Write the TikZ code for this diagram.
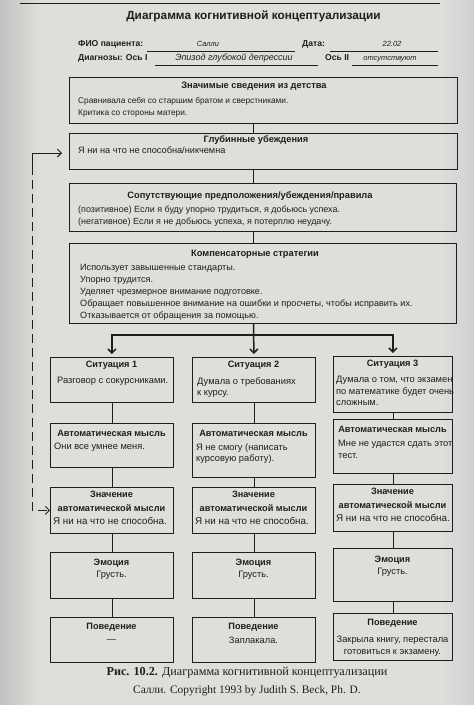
\documentclass[tikz,border=0pt]{standalone}
\usepackage{fontspec}
\setmainfont{Liberation Sans}
\newfontfamily\serifcap{Liberation Serif}
\usetikzlibrary{arrows.meta}
\definecolor{paper}{RGB}{222,222,219}
\definecolor{ink}{RGB}{30,30,30}
\newcommand\fs[2]{\fontsize{#1}{#2}\selectfont}
\newcommand\mkbox[5]{\node[box,minimum width=#4pt,minimum height=#5pt] (#1) at (#2,#3) {};}
\begin{document}
\begin{tikzpicture}[x=1pt,y=-1pt,
  every node/.style={inner sep=0pt,text=ink},
  box/.style={draw=ink,line width=0.9pt,anchor=north west,inner sep=0pt},
  lab/.style={font=\bfseries\fs{8.6}{10},anchor=base west},
  val/.style={font=\itshape\fs{7.5}{9},anchor=base},
  rule/.style={draw=ink,line width=0.6pt},
  ttlU/.style={font=\bfseries\fs{9.3}{10},anchor=base},
  ttlL/.style={font=\bfseries\fs{9.2}{14},anchor=base},
  bodyU/.style={font=\fs{8.3}{12},anchor=north west,align=left},
  bodyL/.style={font=\fs{9.3}{11.7},anchor=north west,align=left},
  bodyC/.style={font=\fs{9.3}{11.7},anchor=base,align=center},
  link/.style={draw=ink,line width=0.75pt},
  branch/.style={draw=ink,line width=1.5pt,-{Straight Barb[length=4pt,width=8pt]},shorten >=3pt},
  tipL/.style={{Straight Barb[length=4pt,width=8pt]}-},
  tipR/.style={-{Straight Barb[length=4pt,width=8pt]}},
  fbsolid/.style={draw=ink,line width=0.9pt},
  fb/.style={draw=ink,line width=0.9pt,dash pattern=on 9pt off 5pt}]
\useasboundingbox (0,0) rectangle (474,705);
\fill[paper] (0,0) rectangle (474,705);
\shade[left color=black!24,right color=paper] (0,0) rectangle (40,705);
\shade[left color=paper,right color=black!18] (440,0) rectangle (474,705);
\draw[rule,line width=0.9pt] (20,3) -- (440,3);

% header
\node[font=\bfseries\fs{11.8}{13},anchor=base] (title) at (253.5,19) {Диаграмма когнитивной концептуализации};
\node[lab] (fio) at (78,46) {ФИО пациента:};
\draw[rule] (147,51) -- (295,51);
\node[val] (fioval) at (208,46) {Салли};
\node[lab] (date) at (302,46) {Дата:};
\draw[rule] (330,51) -- (438,51);
\node[val] (dateval) at (392,46) {22.02};
\node[lab] (diag) at (78,60) {Диагнозы: Ось I};
\draw[rule] (155,65) -- (318,65);
\node[val,font=\itshape\fs{9}{10}] (ax1) at (234,60) {Эпизод глубокой депрессии};
\node[lab] (ax2lab) at (325,60) {Ось II};
\draw[rule] (352,65) -- (438,65);
\node[val] (ax2) at (390,60) {отсутствуют};

% upper boxes
\mkbox{b1}{69}{77}{388}{46}
\mkbox{b2}{69}{133}{388}{36}
\mkbox{b3}{69}{183}{387}{48}
\mkbox{b4}{69}{243}{387}{80}
\coordinate (axis) at (253.5,0);
\node[ttlU] (b1t) at (254,88) {Значимые сведения из детства};
\node[bodyU] (b1x) at (78,97) {Сравнивала себя со старшим братом и сверстниками.\\Критика со стороны матери.};
\node[ttlU] (b2t) at (256,142) {Глубинные убеждения};
\node[bodyU,font=\fs{9.2}{12}] (b2x) at (78,146.5) {Я ни на что не способна/никчемна};
\node[ttlU] (b3t) at (250,198) {Сопутствующие предположения/убеждения/правила};
\node[bodyU,font=\fs{8.95}{11.7}] (b3x) at (78,206) {(позитивное) Если я буду упорно трудиться, я добьюсь успеха.\\(негативное) Если я не добьюсь успеха, я потерплю неудачу.};
\node[ttlU] (b4t) at (255,256) {Компенсаторные стратегии};
\node[bodyU,font=\fs{9.1}{12.2}] (b4x) at (80,263.7) {Использует завышенные стандарты.\\Упорно трудится.\\Уделяет чрезмерное внимание подготовке.\\Обращает повышенное внимание на ошибки и просчеты, чтобы исправить их.\\Отказывается от обращения за помощью.};
\draw[link] (b1.south -| axis) -- (b2.north -| axis);
\draw[link] (b2.south -| axis) -- (b3.north -| axis);
\draw[link] (b3.south -| axis) -- (b4.north -| axis);

% lower boxes
\mkbox{s1}{50}{357}{123}{45}
\mkbox{s2}{192}{357}{123}{45}
\mkbox{s3}{333}{356}{119}{56}
\mkbox{a1}{50}{423}{123}{44}
\mkbox{a2}{192}{423}{123}{54}
\mkbox{a3}{333}{419}{119}{54}
\mkbox{m1}{50}{487}{123}{46}
\mkbox{m2}{192}{487}{123}{46}
\mkbox{m3}{333}{484}{119}{47}
\mkbox{e1}{50}{552}{123}{46}
\mkbox{e2}{192}{552}{123}{46}
\mkbox{e3}{333}{548}{119}{53}
\mkbox{p1}{50}{617}{123}{45}
\mkbox{p2}{192}{617}{123}{45}
\mkbox{p3}{333}{613}{119}{47}

% branch
\coordinate (br) at (253.5,335);
\draw[branch] (b4.south -| br) -- (s2.north);
\draw[branch] (br) -| (s1.north);
\draw[branch] (br) -| (s3.north);

% column links
\foreach \c in {1,2,3}{
  \draw[link] (s\c.south) -- (a\c.north);
  \draw[link] (a\c.south) -- (m\c.north);
  \draw[link] (m\c.south) -- (e\c.north);
  \draw[link] (e\c.south) -- (p\c.north);
}

% feedback
\coordinate (fbtip) at (62,153);
\coordinate (fbc) at (32,153);
\coordinate (fbd) at (32,166);
\draw[fbsolid,tipL] (fbtip) -- (fbc) -- (fbd);
\draw[fb,tipR] (fbd) |- (m1.west);

% situations
\node[ttlL] (s1t) at (111.5,367.4) {Ситуация 1};
\node[bodyL] (s1x) at (57,377) {Разговор с сокурсниками.};
\node[ttlL] (s2t) at (253.5,367.4) {Ситуация 2};
\node[bodyL] (s2x) at (197,377) {Думала о требованиях\\к курсу.};
\node[ttlL] (s3t) at (392.5,366.4) {Ситуация 3};
\node[bodyL] (s3x) at (336,375.7) {Думала о том, что экзамен\\по математике будет очень\\сложным.};

% automatic thoughts
\node[ttlL] (a1t) at (111.5,436) {Автоматическая мысль};
\node[bodyL] (a1x) at (54,443.2) {Они все умнее меня.};
\node[ttlL] (a2t) at (253.5,436) {Автоматическая мысль};
\node[bodyL] (a2x) at (196,443.2) {Я не смогу (написать\\курсовую работу).};
\node[ttlL] (a3t) at (392.5,432.4) {Автоматическая мысль};
\node[bodyL] (a3x) at (338,440) {Мне не удастся сдать этот\\тест.};

% meaning
\node[ttlL,anchor=north,align=center] (m1t) at (111.5,490.8) {Значение\\автоматической мысли};
\node[bodyL,font=\fs{9.8}{12},anchor=base west] (m1x) at (53,524) {Я ни на что не способна.};
\node[ttlL,anchor=north,align=center] (m2t) at (253.5,490.8) {Значение\\автоматической мысли};
\node[bodyL,font=\fs{9.8}{12},anchor=base west] (m2x) at (195,524) {Я ни на что не способна.};
\node[ttlL,anchor=north,align=center] (m3t) at (392.5,487.8) {Значение\\автоматической мысли};
\node[bodyL,font=\fs{9.8}{12},anchor=base west] (m3x) at (336,521) {Я ни на что не способна.};

% emotion
\node[ttlL] (e1t) at (111.5,565.4) {Эмоция};
\node[bodyC] (e1x) at (111.5,577) {Грусть.};
\node[ttlL] (e2t) at (253.5,565.4) {Эмоция};
\node[bodyC] (e2x) at (253.5,577) {Грусть.};
\node[ttlL] (e3t) at (392.5,562.4) {Эмоция};
\node[bodyC] (e3x) at (392.5,574) {Грусть.};

% behaviour
\node[ttlL] (p1t) at (111.5,629.4) {Поведение};
\node[bodyC] (p1x) at (111.5,642.4) {—};
\node[ttlL] (p2t) at (253.5,629.4) {Поведение};
\node[bodyC] (p2x) at (253.5,643.4) {Заплакала.};
\node[ttlL] (p3t) at (392.5,625.4) {Поведение};
\node[bodyC,anchor=north] (p3x) at (392.5,635.7) {Закрыла книгу, перестала\\готовиться к экзамену.};

% caption
\node[font=\serifcap\fs{12.2}{14},anchor=base] (cap1) at (247,675.5) {\textbf{Рис. 10.2.} Диаграмма когнитивной концептуализации};
\node[font=\serifcap\fs{11.4}{14},anchor=base] (cap2) at (247,693.3) {Салли. Copyright 1993 by Judith S. Beck, Ph. D.};
\end{tikzpicture}
\end{document}
